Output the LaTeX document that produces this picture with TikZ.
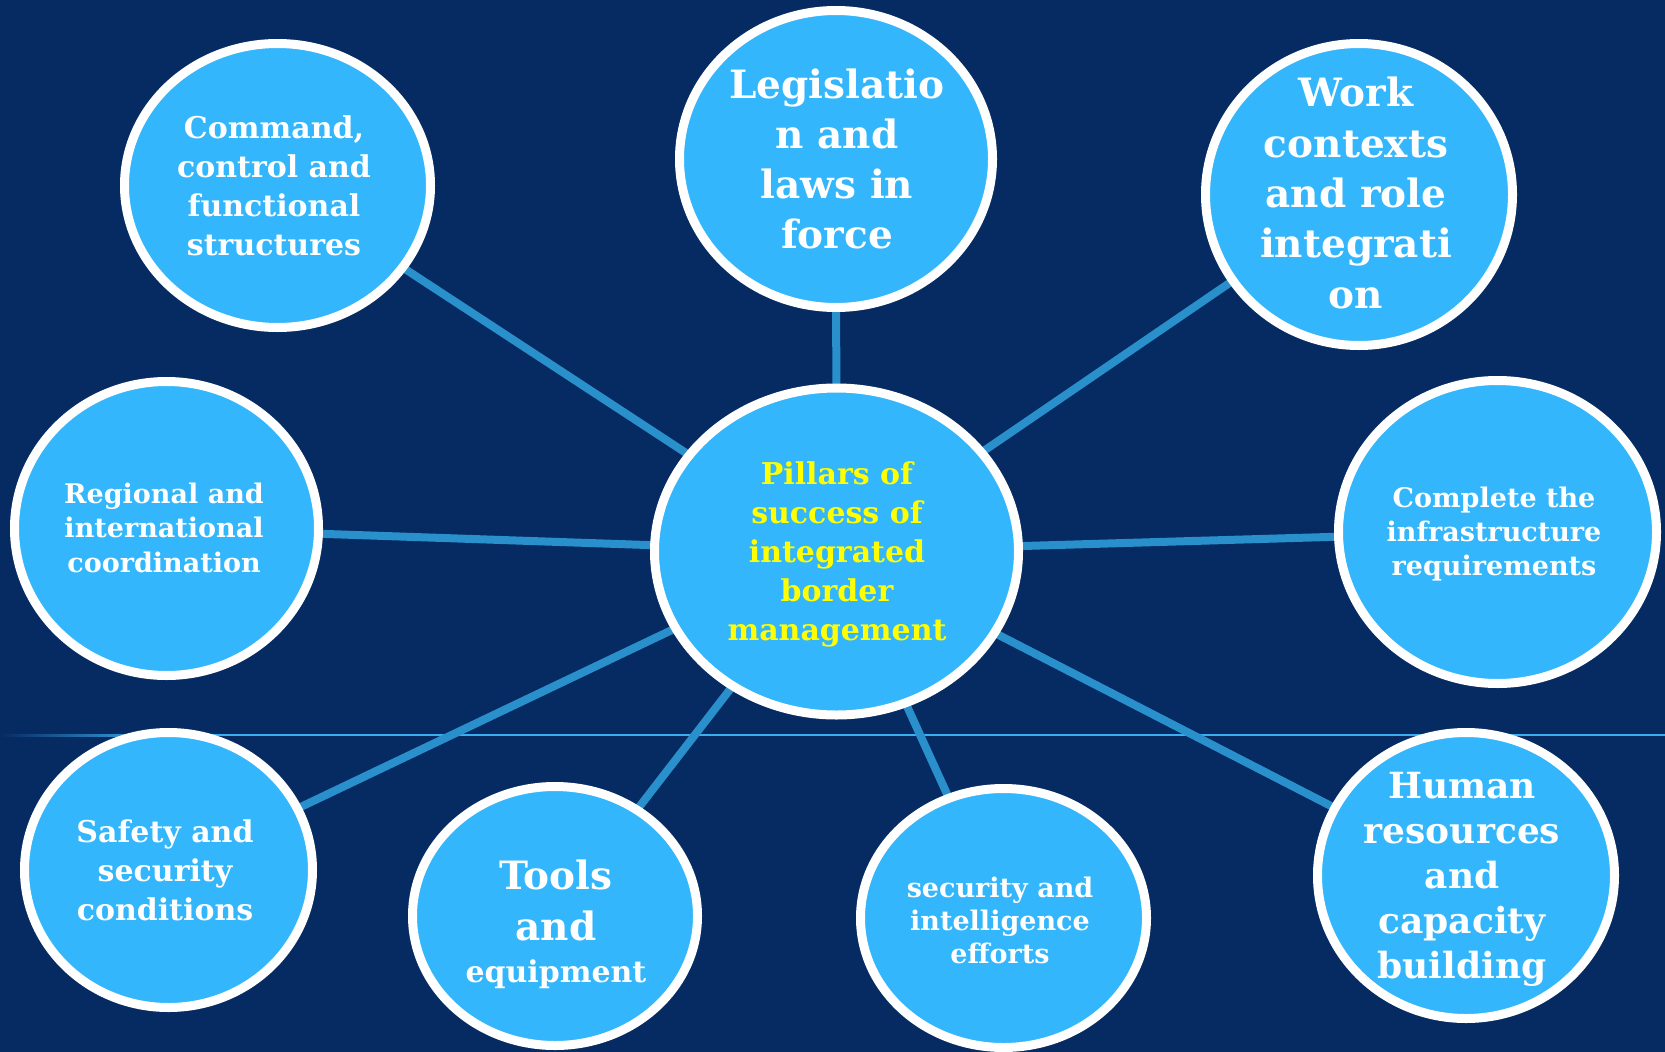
\documentclass[tikz,border=0pt]{standalone}
\usepackage{fontspec}
\setmainfont{DejaVu Serif}
\usetikzlibrary{shapes.geometric}
\definecolor{navy}{HTML}{062B62}
\definecolor{bubblefill}{HTML}{33B6FB}
\definecolor{spokeblue}{HTML}{2990CC}
\definecolor{ruleblue}{HTML}{3AAEEE}
\definecolor{titleyellow}{HTML}{FFFF00}
\pgfdeclarelayer{bg}
\pgfdeclarelayer{spokes}
\pgfsetlayers{bg,spokes,main}

\begin{document}
\begin{tikzpicture}[x=1pt,y=-1pt,
  bubble/.style={ellipse, fill=bubblefill, draw=white, line width=9pt,
                 inner sep=0pt, outer sep=0pt},
  txt/.style={anchor=base, align=center, text=white, font=\bfseries},
  spokeline/.style={draw=spokeblue, line width=8pt}]

% canvas
\begin{pgfonlayer}{bg}
  \fill[navy] (0,0) rectangle (1665,1052);
\end{pgfonlayer}
\useasboundingbox (0,0) rectangle (1665,1052);

% bubbles
\node[bubble, minimum width=364pt, minimum height=327pt] (hub)   at (836.5,551.5) {};
\node[bubble, minimum width=306pt, minimum height=284pt] (cmd)   at (277.5,185.5) {};
\node[bubble, minimum width=313pt, minimum height=297pt] (leg)   at (836,159) {};
\node[bubble, minimum width=307pt, minimum height=302pt] (work)  at (1359,194.5) {};
\node[bubble, minimum width=304pt, minimum height=294pt] (reg)   at (166.5,528.5) {};
\node[bubble, minimum width=318pt, minimum height=303pt] (infra) at (1497.5,532) {};
\node[bubble, minimum width=288pt, minimum height=275pt] (safe)  at (168.5,870) {};
\node[bubble, minimum width=285pt, minimum height=259pt] (tools) at (555,916) {};
\node[bubble, minimum width=286pt, minimum height=259pt] (intel) at (1003.5,918) {};
\node[bubble, minimum width=297pt, minimum height=286pt] (hr)    at (1466,875.5) {};

% spokes and the thin horizontal rule, behind the bubbles
\begin{pgfonlayer}{spokes}
  \shade[left color=navy, right color=ruleblue] (0,734) rectangle (160,736);
  \fill[ruleblue] (160,734) rectangle (1665,736);
  \foreach \n in {cmd,leg,work,reg,infra,safe,tools,intel,hr}
    \draw[spokeline] (hub.center) -- (\n.center);
\end{pgfonlayer}

% labels (each placed by the baseline of its last line)
\node[txt, font=\bfseries\fontsize{30}{39}\selectfont, text=titleyellow] (hubtxt) at (837,640)
  {Pillars of\\success of\\integrated\\border\\management};
\node[txt, font=\bfseries\fontsize{30}{39}\selectfont] (cmdtxt) at (274,255)
  {Command,\\control and\\functional\\structures};
\node[txt, font=\bfseries\fontsize{39}{50}\selectfont] (legtxt) at (837,248)
  {Legislatio\\n and\\laws in\\force};
\node[txt, font=\bfseries\fontsize{39}{50.3}\selectfont] (worktxt) at (1356,308)
  {Work\\contexts\\and role\\integrati\\on};
\node[txt, font=\bfseries\fontsize{27}{34.5}\selectfont] (regtxt) at (164,572)
  {Regional and\\international\\coordination};
\node[txt, font=\bfseries\fontsize{27}{34}\selectfont] (infratxt) at (1494,575)
  {Complete the\\infrastructure\\requirements};
\node[txt, font=\bfseries\fontsize{30}{39}\selectfont] (safetxt) at (165,920)
  {Safety and\\security\\conditions};
\node[txt, font=\bfseries\fontsize{39}{51}\selectfont] (toolstxt) at (556,982)
  {Tools\\and\\[-9pt]{\fontsize{30}{39}\selectfont equipment}};
\node[txt, font=\bfseries\fontsize{27}{33}\selectfont] (inteltxt) at (1000,963)
  {security and\\intelligence\\efforts};
\node[txt, font=\bfseries\fontsize{36}{45}\selectfont] (hrtxt) at (1462,978)
  {Human\\resources\\and\\capacity\\building};
\end{tikzpicture}
\end{document}
